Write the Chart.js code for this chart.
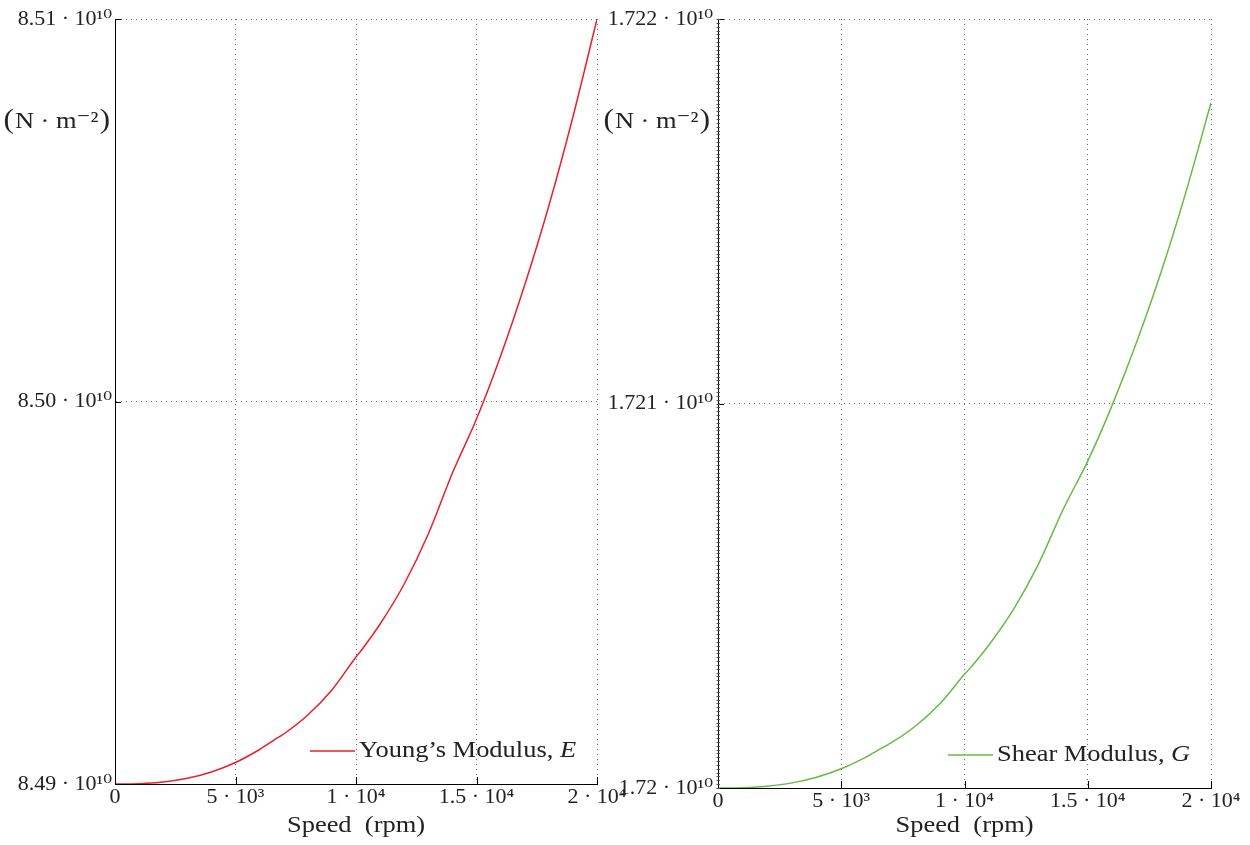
<!DOCTYPE html>
<html><head><meta charset="utf-8">
<script src="https://cdn.jsdelivr.net/npm/chart.js@4/dist/chart.umd.min.js"></script>
<style>
html,body{margin:0;padding:0;background:#fff;width:1250px;height:845px;overflow:hidden}
canvas{position:absolute;top:0}
#c1{left:0}
#c2{left:600px}
</style></head><body>
<canvas id="c1" width="640" height="845"></canvas>
<canvas id="c2" width="650" height="845"></canvas>
<script>
// ---- data ----
const speed = [0,1000,2000,3000,4000,5000,6000,6600,7000,8000,9000,10000,10200,11000,12000,13000,14000,14200,15000,16000,17000,18000,19000,20000];
const youngsModulus = [8.490000e10,8.490009e10,8.490052e10,8.490149e10,8.490316e10,8.490562e10,8.490902e10,8.491150e10,8.491307e10,8.491804e10,8.492458e10,8.493320e10,8.493477e10,8.494183e10,8.495229e10,8.496536e10,8.498131e10,8.498418e10,8.499542e10,8.501190e10,8.503046e10,8.505111e10,8.507438e10,8.510000e10];
const shearModulus = [1.7200000e10,1.7200008e10,1.7200047e10,1.7200133e10,1.7200282e10,1.7200501e10,1.7200804e10,1.7201025e10,1.7201165e10,1.7201607e10,1.7202190e10,1.7202958e10,1.7203098e10,1.7203727e10,1.7204659e10,1.7205824e10,1.7207244e10,1.7207501e10,1.7208502e10,1.7209970e10,1.7211624e10,1.7213464e10,1.7215537e10,1.7217820e10];
const speedTicks = [0,5000,10000,15000,20000];
const speedTickLabels = ['0','5 · 10³','1 · 10⁴','1.5 · 10⁴','2 · 10⁴'];
const youngTicks = [8.49e10,8.50e10,8.51e10];
const youngTickLabels = ['8.49 · 10¹⁰','8.50 · 10¹⁰','8.51 · 10¹⁰'];
const shearTicks = [1.720e10,1.721e10,1.722e10];
const shearTickLabels = ['1.72 · 10¹⁰','1.721 · 10¹⁰','1.722 · 10¹⁰'];
const xTitle = 'Speed  (rpm)';
const yUnit = ['(', 'N · m⁻²', ')'];
const legendE = ['Young’s Modulus, ', 'E'];
const legendG = ['Shear Modulus, ', 'G'];

const FONT = "'Liberation Serif', 'DejaVu Serif', serif";
const TXT = '#222';
const STRETCH = 1.15;

function makeChart(id, values, yTicks, yLabels, color, legend, geo) {
  const extras = {
    id: 'extras',
    afterDraw(chart) {
      const ctx = chart.ctx, a = chart.chartArea;
      const xs = chart.scales.x, ys = chart.scales.y;
      ctx.save();
      ctx.strokeStyle = '#000'; ctx.lineWidth = 1;
      // inward major ticks
      yTicks.forEach(v => {
        const y = Math.round(ys.getPixelForValue(v)) + 0.5;
        ctx.beginPath(); ctx.moveTo(a.left, y); ctx.lineTo(a.left + 6, y); ctx.stroke();
      });
      speedTicks.forEach(v => {
        const x = Math.round(xs.getPixelForValue(v)) + 0.5;
        ctx.beginPath(); ctx.moveTo(x, a.bottom); ctx.lineTo(x, a.bottom - 7); ctx.stroke();
      });
      if (geo.minor) {
        ctx.strokeStyle = '#555';
        const lo = yTicks[0], hi = yTicks[yTicks.length - 1], step = (hi - lo) / 200;
        for (let i = 0; i <= 200; i++) {
          const y = Math.round(ys.getPixelForValue(lo + i * step)) + 0.5;
          ctx.beginPath(); ctx.moveTo(a.left - 1.5, y); ctx.lineTo(a.left + 2, y); ctx.stroke();
        }
      }
      ctx.fillStyle = TXT;
      ctx.textBaseline = 'middle';
      // unit label, right-aligned next to the y axis
      const big = '27px ' + FONT, mid = '23px ' + FONT;
      ctx.font = big; const wp1 = ctx.measureText(yUnit[0]).width, wp2 = ctx.measureText(yUnit[2]).width;
      ctx.font = mid; const wm = ctx.measureText(yUnit[1]).width;
      let ux = a.left - geo.unitGap - (wp1 + wm + wp2 + 2) * STRETCH;
      ctx.save(); ctx.translate(ux, 121); ctx.scale(STRETCH, 1);
      ctx.textAlign = 'left';
      ctx.font = big; ctx.fillText(yUnit[0], 0, 0);
      ctx.font = mid; ctx.fillText(yUnit[1], wp1 + 1, 1);
      ctx.font = big; ctx.fillText(yUnit[2], wp1 + wm + 2, 0);
      ctx.restore();
      // x axis title
      ctx.save();
      ctx.translate((a.left + a.right) / 2, 826); ctx.scale(STRETCH, 1);
      ctx.font = '23px ' + FONT; ctx.textAlign = 'center';
      ctx.fillText(xTitle, 0, 0);
      ctx.restore();
      // legend
      const ly = geo.legendY;
      ctx.strokeStyle = color; ctx.lineWidth = 1.5;
      ctx.beginPath(); ctx.moveTo(geo.legendX, ly); ctx.lineTo(geo.legendX + 45, ly); ctx.stroke();
      ctx.save();
      ctx.translate(geo.legendX + 49, ly); ctx.scale(STRETCH, 1);
      ctx.textAlign = 'left';
      ctx.font = '23px ' + FONT;
      ctx.fillText(legend[0], 0, 0);
      const w = ctx.measureText(legend[0]).width;
      ctx.font = 'italic 23px ' + FONT;
      ctx.fillText(legend[1], w, 0);
      ctx.restore();
      ctx.restore();
    }
  };
  return new Chart(document.getElementById(id), {
    type: 'line',
    data: {
      labels: speed,
      datasets: [{
        data: speed.map((s, i) => ({x: s, y: values[i]})),
        borderColor: color, borderWidth: 1.5, pointRadius: 0,
        cubicInterpolationMode: 'monotone', fill: false
      }]
    },
    options: {
      responsive: false, animation: false, devicePixelRatio: 1,
      layout: {padding: {left: 0, right: geo.padRight, top: 19, bottom: 0}},
      plugins: {legend: {display: false}, tooltip: {enabled: false}},
      scales: {
        x: {
          type: 'linear', min: 0, max: 20000,
          afterBuildTicks: s => { s.ticks = speedTicks.map(v => ({value: v})); },
          afterFit: s => { s.height = geo.xHeight; },
          ticks: {
            color: TXT, font: {family: FONT, size: 22}, padding: 0, maxRotation: 0,
            callback: (v) => speedTickLabels[speedTicks.indexOf(v)]
          },
          grid: {color: '#666', lineWidth: 1, drawTicks: false},
          border: {display: true, color: '#000', width: 1, dash: [1, 4]},
          title: {display: false}
        },
        y: {
          type: 'linear', min: yTicks[0], max: yTicks[yTicks.length - 1],
          afterBuildTicks: s => { s.ticks = yTicks.map(v => ({value: v})); },
          afterFit: s => { s.width = geo.yWidth; },
          ticks: {
            color: TXT, font: {family: FONT, size: 22}, padding: geo.yPad,
            callback: (v) => yLabels[yTicks.indexOf(v)]
          },
          grid: {color: '#666', lineWidth: 1, drawTicks: false},
          border: {display: true, color: '#000', width: 1, dash: [1, 4]}
        }
      }
    },
    plugins: [extras]
  });
}

makeChart('c1', youngsModulus, youngTicks, youngTickLabels, '#e8202a', legendE,
  {padRight: 43, xHeight: 61, yWidth: 115, yPad: 3, unitGap: 5, legendX: 310, legendY: 751, minor: false});
makeChart('c2', shearModulus, shearTicks, shearTickLabels, '#66bb44', legendG,
  {padRight: 39, xHeight: 57, yWidth: 118, yPad: 5, unitGap: 8, legendX: 348, legendY: 755, minor: true});
</script>
</body></html>
